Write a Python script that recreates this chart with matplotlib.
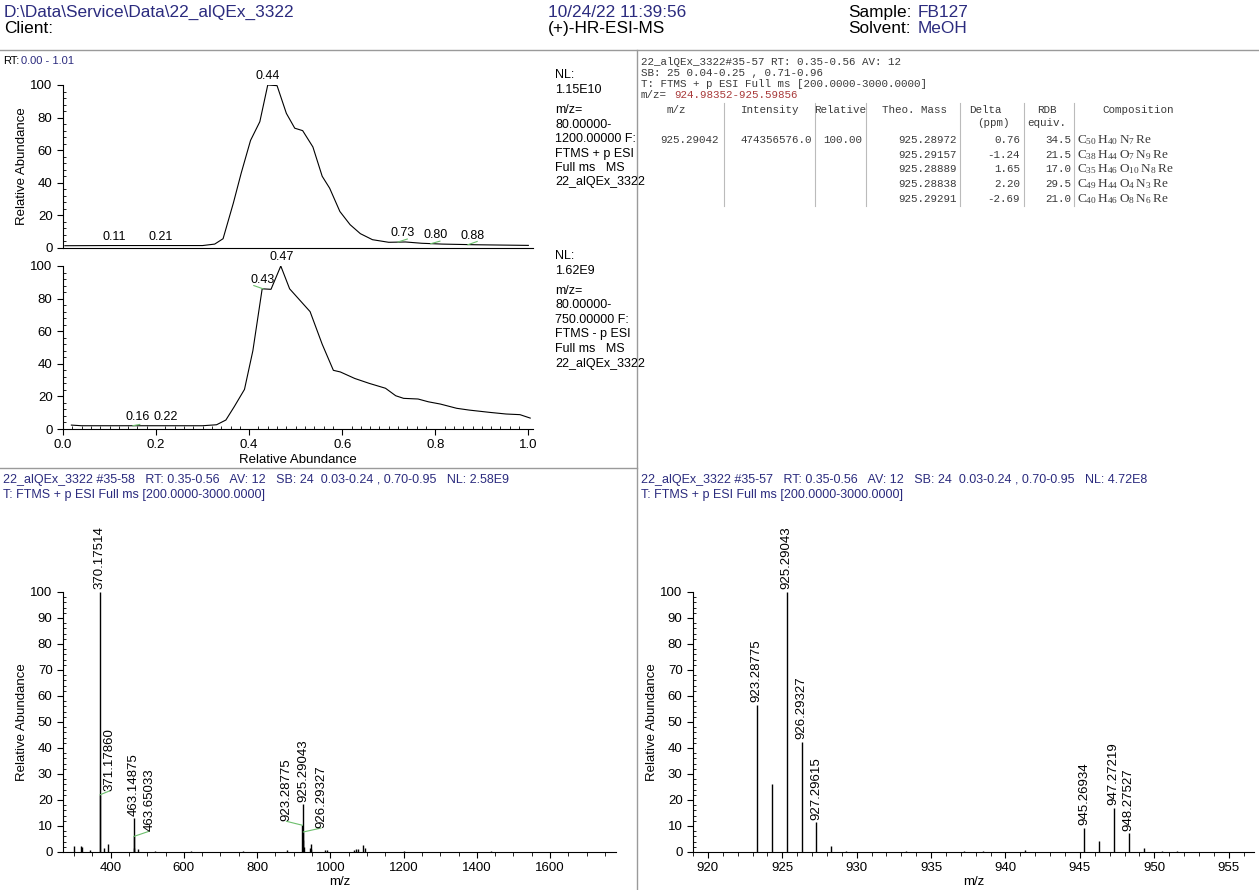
import numpy as np
import matplotlib
matplotlib.use('Agg')
import matplotlib.pyplot as plt
from matplotlib.ticker import MultipleLocator
from matplotlib.lines import Line2D

plt.rcParams['font.family'] = ['Liberation Sans', 'DejaVu Sans']
plt.rcParams['mathtext.fontset'] = 'custom'
plt.rcParams['mathtext.rm'] = 'Liberation Serif'

W, H = 1259, 890
navy = '#2b2b7e'
green = '#6cbf6c'
grey = '#9a9a9a'

# chromatogram, positive mode (RT, relative abundance)
rt_pos = [0.004, 0.10, 0.20, 0.30, 0.326, 0.344, 0.366, 0.383, 0.403, 0.423, 0.44, 0.46,
          0.48, 0.498, 0.515, 0.537, 0.557, 0.573, 0.595, 0.617, 0.639, 0.665, 0.70,
          0.736, 0.771, 0.815, 0.885, 1.0]
ab_pos = [1.4, 1.5, 1.5, 1.5, 2.4, 5.7, 27.5, 46, 66, 77.5, 100, 99.6,
          82.6, 73.5, 72, 62, 44, 36.7, 22.4, 14.3, 8.8, 5.1, 3.5,
          3.7, 2.9, 2.4, 2.0, 1.6]
# chromatogram, negative mode
rt_neg = [0.018, 0.04, 0.15, 0.25, 0.30, 0.33, 0.35, 0.368, 0.39, 0.408, 0.428, 0.447,
          0.468, 0.487, 0.509, 0.531, 0.557, 0.581, 0.596, 0.627, 0.658, 0.693, 0.715,
          0.732, 0.763, 0.785, 0.811, 0.846, 0.873, 0.917, 0.952, 0.982, 1.004]
ab_neg = [2.4, 2.0, 2.0, 2.0, 2.0, 2.6, 5.5, 13.7, 24.3, 48, 86, 85.7,
          100, 86, 79, 72, 52, 36, 35, 31, 28, 25, 20.4,
          18.8, 18.4, 16.7, 15.3, 12.7, 11.6, 10.2, 9.2, 8.8, 6.7]
pos_labels = [(0.44, 100.0), (0.11, 1.5), (0.21, 1.5), (0.73, 3.7), (0.80, 2.6), (0.88, 2.0)]
neg_labels = [(0.47, 100.0), (0.43, 86.0), (0.16, 2.0), (0.22, 2.0)]

# full spectrum
mz_full = [300.1, 318.2, 322.1, 345.0, 370.17514, 371.17860, 383.1, 392.1, 463.14875,
           463.65033, 464.15, 475.2, 520.0, 620.0, 760.3, 883.0, 923.28775, 924.29,
           925.29043, 926.29327, 927.30, 945.27, 947.27, 948.28, 985.0, 990.0, 1065.0,
           1070.0, 1075.0, 1090.0, 1095.0, 1200.0, 1440.0]
int_full = [2.5, 2.2, 1.8, 0.8, 100, 22, 1.5, 3.1, 13,
            6, 1.5, 1.0, 0.3, 0.3, 0.5, 0.6, 10.3, 4.7,
            18.3, 7.7, 2.0, 1.7, 3.1, 1.3, 0.6, 0.7, 0.8,
            1.0, 1.2, 2.6, 1.4, 0.5, 0.4]
full_labels = ['370.17514', '371.17860', '463.14875', '463.65033',
               '923.28775', '925.29043', '926.29327']

# zoomed spectrum
mz_zoom = [923.28775, 924.29, 925.29043, 926.29327, 927.29615, 928.30, 929.3, 933.3,
           937.2, 938.5, 941.3, 945.26934, 946.27, 947.27219, 948.27527, 949.28, 950.5, 951.5]
int_zoom = [56.5, 26, 100, 42.5, 11.5, 2.3, 0.3, 0.3,
            0.3, 0.3, 0.6, 9.3, 4.3, 17, 7.2, 1.7, 0.3, 0.3]
zoom_labels = ['923.28775', '925.29043', '926.29327', '927.29615',
               '945.26934', '947.27219', '948.27527']

# elemental composition table
tab_mz = '925.29042'
tab_int = '474356576.0'
tab_rel = '100.00'
theo_mass = ['925.28972', '925.29157', '925.28889', '925.28838', '925.29291']
delta_ppm = ['0.76', '-1.24', '1.65', '2.20', '-2.69']
rdb = ['34.5', '21.5', '17.0', '29.5', '21.0']
formula = [r'$\mathrm{C_{50}\,H_{40}\,N_{7}\,Re}$',
           r'$\mathrm{C_{38}\,H_{44}\,O_{7}\,N_{9}\,Re}$',
           r'$\mathrm{C_{35}\,H_{46}\,O_{10}\,N_{8}\,Re}$',
           r'$\mathrm{C_{49}\,H_{44}\,O_{4}\,N_{3}\,Re}$',
           r'$\mathrm{C_{40}\,H_{46}\,O_{8}\,N_{6}\,Re}$']


def box(x0, y0, x1, y1):
    return [x0 / W, 1 - y1 / H, (x1 - x0) / W, (y1 - y0) / H]


def fx(px):
    return px / W


def fy(py):
    return 1 - py / H


def style(ax):
    for s in ['top', 'right']:
        ax.spines[s].set_visible(False)
    ax.tick_params(which='major', direction='out', length=4, width=0.8, labelsize=9.5)
    ax.tick_params(which='minor', direction='in', length=2.5, width=0.6)


def hline(x0, x1, y, **kw):
    fig.add_artist(Line2D([fx(x0), fx(x1)], [fy(y), fy(y)], transform=fig.transFigure, **kw))


def vline(x, y0, y1, **kw):
    fig.add_artist(Line2D([fx(x), fx(x)], [fy(y0), fy(y1)], transform=fig.transFigure, **kw))


fig = plt.figure(figsize=(W / 100, H / 100), dpi=100)

# header
hs = 12.4
fig.text(fx(4), fy(5), 'D:\\Data\\Service\\Data\\22_alQEx_3322', color=navy, fontsize=hs, va='top')
fig.text(fx(4), fy(21), 'Client:', color='black', fontsize=hs, va='top')
fig.text(fx(548), fy(5), '10/24/22 11:39:56', color=navy, fontsize=hs, va='top')
fig.text(fx(548), fy(21), '(+)-HR-ESI-MS', color='black', fontsize=hs, va='top')
fig.text(fx(848), fy(5), 'Sample:', color='black', fontsize=hs, va='top')
fig.text(fx(918), fy(5), 'FB127', color=navy, fontsize=hs, va='top')
fig.text(fx(848), fy(21), 'Solvent:', color='black', fontsize=hs, va='top')
fig.text(fx(918), fy(21), 'MeOH', color=navy, fontsize=hs, va='top')

hline(0, W, 50, color=grey, lw=1)
vline(637, 50, H, color=grey, lw=1)
hline(0, 637, 468, color=grey, lw=1)

# chromatograms
fig.text(fx(3), fy(56), 'RT:', color='black', fontsize=8, va='top')
fig.text(fx(21), fy(56), '0.00 - 1.01', color=navy, fontsize=8, va='top')

ax1 = fig.add_axes(box(63, 85, 533, 248))
ax2 = fig.add_axes(box(63, 266, 533, 429))
for ax, rt, ab, labs in [(ax1, rt_pos, ab_pos, pos_labels), (ax2, rt_neg, ab_neg, neg_labels)]:
    style(ax)
    ax.plot(rt, ab, color='black', lw=0.8)
    ax.set_xlim(0, 1.01)
    ax.set_ylim(0, 100)
    ax.yaxis.set_major_locator(MultipleLocator(20))
    ax.yaxis.set_minor_locator(MultipleLocator(4))
    for x, y in labs:
        ax.annotate('%.2f' % x, (x, y), xytext=(0, 2), textcoords='offset points',
                    ha='center', va='bottom', fontsize=9, annotation_clip=False)
ax1.set_xticks([])
ax1.set_ylabel('Relative Abundance', fontsize=9.5, labelpad=2)
ax2.xaxis.set_major_locator(MultipleLocator(0.2))
ax2.xaxis.set_minor_locator(MultipleLocator(0.02))
ax2.set_xlabel('Relative Abundance', fontsize=9.5, labelpad=2)

# small green connectors on the annotated minor peaks
for ax, x0, y0, x1, y1 in [(ax1, 0.72, 3.7, 0.74, 5.5), (ax1, 0.79, 2.6, 0.81, 4.2),
                           (ax1, 0.87, 2.0, 0.89, 4.0), (ax2, 0.43, 86, 0.41, 88),
                           (ax2, 0.15, 2.0, 0.165, 2.8)]:
    ax.plot([x0, x1], [y0, y1], color=green, lw=0.8, clip_on=False)

nl_pos = ['NL:', '1.15E10', 'm/z=', '80.00000-', '1200.00000 F:', 'FTMS + p ESI',
          'Full ms   MS', '22_alQEx_3322']
nl_neg = ['NL:', '1.62E9', 'm/z=', '80.00000-', '750.00000 F:', 'FTMS - p ESI',
          'Full ms   MS', '22_alQEx_3322']
for top, lines in [(75, nl_pos), (256, nl_neg)]:
    ys = [top, top + 15, top + 35, top + 49.5, top + 64, top + 78.5, top + 93, top + 107.5]
    for y, s in zip(ys, lines):
        fig.text(fx(555), fy(y), s, fontsize=9, va='center')

# table panel
mono = 'Liberation Mono'
tcol = '#3a3a3a'
ts = 7.8
fig.text(fx(641), fy(62), '22_alQEx_3322#35-57 RT: 0.35-0.56 AV: 12', family=mono,
         fontsize=ts, color=tcol, va='center')
fig.text(fx(641), fy(73), 'SB: 25 0.04-0.25 , 0.71-0.96', family=mono,
         fontsize=ts, color=tcol, va='center')
fig.text(fx(641), fy(84), 'T: FTMS + p ESI Full ms [200.0000-3000.0000]', family=mono,
         fontsize=ts, color=tcol, va='center')
fig.text(fx(641), fy(95), 'm/z=', family=mono, fontsize=ts, color=tcol, va='center')
fig.text(fx(674), fy(95), '924.98352-925.59856', family=mono, fontsize=ts,
         color='#a83a3a', va='center')

for xc, s in [(676, 'm/z'), (770, 'Intensity'), (840, 'Relative'), (915, 'Theo. Mass'),
              (985, 'Delta'), (1047, 'RDB'), (1138, 'Composition')]:
    fig.text(fx(xc), fy(110), s, family=mono, fontsize=ts, color=tcol, ha='center', va='center')
fig.text(fx(993), fy(123), '(ppm)', family=mono, fontsize=ts, color=tcol, ha='center', va='center')
fig.text(fx(1047), fy(123), 'equiv.', family=mono, fontsize=ts, color=tcol, ha='center', va='center')
for xs in [724, 815, 866, 960, 1024, 1074]:
    vline(xs, 103, 206, color='#bbbbbb', lw=0.8)

row_y = [140, 155, 169, 184, 199]
fig.text(fx(719), fy(row_y[0]), tab_mz, family=mono, fontsize=ts, color=tcol, ha='right', va='center')
fig.text(fx(812), fy(row_y[0]), tab_int, family=mono, fontsize=ts, color=tcol, ha='right', va='center')
fig.text(fx(862), fy(row_y[0]), tab_rel, family=mono, fontsize=ts, color=tcol, ha='right', va='center')
for i, y in enumerate(row_y):
    fig.text(fx(957), fy(y), theo_mass[i], family=mono, fontsize=ts, color=tcol, ha='right', va='center')
    fig.text(fx(1020), fy(y), delta_ppm[i], family=mono, fontsize=ts, color=tcol, ha='right', va='center')
    fig.text(fx(1071), fy(y), rdb[i], family=mono, fontsize=ts, color=tcol, ha='right', va='center')
    fig.text(fx(1077), fy(y), formula[i], fontsize=9.5, color=tcol, ha='left', va='center')

# spectra
title_l = '22_alQEx_3322 #35-58   RT: 0.35-0.56   AV: 12   SB: 24  0.03-0.24 , 0.70-0.95   NL: 2.58E9'
title_r = '22_alQEx_3322 #35-57   RT: 0.35-0.56   AV: 12   SB: 24  0.03-0.24 , 0.70-0.95   NL: 4.72E8'
scan = 'T: FTMS + p ESI Full ms [200.0000-3000.0000]'
fig.text(fx(3), fy(480), title_l, color=navy, fontsize=9, va='center')
fig.text(fx(3), fy(495), scan, color=navy, fontsize=9, va='center')
fig.text(fx(641), fy(480), title_r, color=navy, fontsize=9, va='center')
fig.text(fx(641), fy(495), scan, color=navy, fontsize=9, va='center')

axL = fig.add_axes(box(63, 592, 616, 852))
axR = fig.add_axes(box(693, 592, 1254, 852))
for ax, mz, inten, xl, maj, mnr in [(axL, mz_full, int_full, (270, 1780), 200, 50),
                                    (axR, mz_zoom, int_zoom, (919.0, 956.7), 5, 1)]:
    style(ax)
    ax.vlines(mz, 0, inten, color='black', lw=1.0)
    ax.set_xlim(*xl)
    ax.set_ylim(0, 100)
    ax.xaxis.set_major_locator(MultipleLocator(maj))
    ax.xaxis.set_minor_locator(MultipleLocator(mnr))
    ax.tick_params(axis='x', which='minor', direction='out', length=3)
    ax.yaxis.set_major_locator(MultipleLocator(10))
    ax.yaxis.set_minor_locator(MultipleLocator(2))
    ax.set_xlabel('m/z', fontsize=9.5, labelpad=1)
    ax.set_ylabel('Relative Abundance', fontsize=9.5, labelpad=2)

# full spectrum labels: some offset with green leader lines
offs_L = {'371.17860': (26, 1.5), '463.65033': (42, 2.0), '923.28775': (-43, 1.5),
          '926.29327': (48, 1.5)}
for s in full_labels:
    m = float(s)
    i = int(np.argmin(np.abs(np.array(mz_full) - m)))
    y = int_full[i]
    if s in offs_L:
        dx, dy = offs_L[s]
        axL.plot([m, m + dx], [y, y + dy], color=green, lw=0.8)
        axL.text(m + dx, y + dy, s, rotation=90, ha='center', va='bottom', fontsize=9.5)
    else:
        axL.text(m, y + 1, s, rotation=90, ha='center', va='bottom', fontsize=9.5, clip_on=False)

for s in zoom_labels:
    m = float(s)
    i = int(np.argmin(np.abs(np.array(mz_zoom) - m)))
    axR.text(m, int_zoom[i] + 1, s, rotation=90, ha='center', va='bottom', fontsize=9.5, clip_on=False)

fig.savefig('out.png', dpi=100)
